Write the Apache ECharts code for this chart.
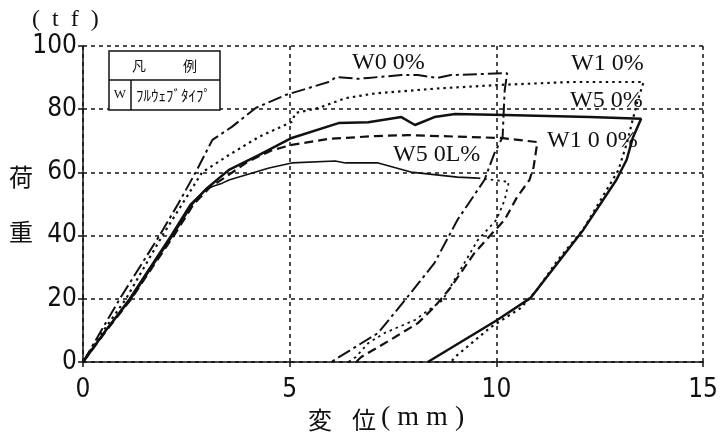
<!DOCTYPE html>
<html>
<head>
<meta charset="utf-8">
<script src="https://cdn.jsdelivr.net/npm/echarts@6/dist/echarts.min.js"></script>
<style>html,body{margin:0;padding:0;background:#fff}#c{width:721px;height:436px}</style>
</head>
<body>
<div id="c"></div>
<script>
// ---- data (x: displacement mm, y: load tf) ----
const xTicks = [0, 5, 10, 15];
const yTicks = [0, 20, 40, 60, 80, 100];
const seriesNames = ['W0 0%', 'W1 0%', 'W5 0%', 'W1 0 0%', 'W5 0L%'];

const w00 = [[0,0],[0.89,20],[1.85,40],[2.3,50],[2.74,60.4],[3.13,70.3],[3.6,74.4],[4.18,80.4],[4.9,84.5],[5.94,88.6],[6.13,90.2],[6.66,89.6],[6.9,89.9],[7.7,90.8],[8.1,90.8],[8.58,89.9],[8.9,90.8],[10.26,91.4],[10.3,91],[10.2,86],[10.15,71.2],[9.95,66],[9.71,57.6],[9.06,45],[8.5,31.3],[7.79,19.6],[7.14,9.2],[6.0,0]];
const w10 = [[0,0],[0.5,10],[1.04,20],[1.48,30],[1.92,40],[2.4,50],[2.88,60],[3.53,65.5],[4.25,71.2],[5.05,76],[5.14,78.8],[5.7,80.4],[6.35,83.5],[7.07,85],[8.5,86.5],[10.1,87.7],[11.8,88.6],[13.56,88.6],[13.4,82],[13.15,69],[12.95,60.7],[12.1,42],[11.47,32],[10.98,22.8],[10.58,17],[9.86,11],[9.0,1.6],[8.9,0]];
const w50 = [[0,0],[0.55,10],[1.15,20],[1.65,30],[2.16,40],[2.64,50],[3.0,55],[3.53,60.8],[4.25,65.5],[5.05,70.9],[6.18,75.6],[6.9,75.9],[7.7,77.5],[8.03,75],[8.5,77.5],[9.0,78.5],[10.2,78.2],[12.26,77.5],[13.5,77],[13.3,71],[13.15,64],[12.9,57.6],[12.1,41.8],[10.82,20.2],[10.02,13.3],[8.34,0]];
const w100 = [[0,0],[0.57,10],[1.17,20],[1.68,30],[2.2,40],[2.68,50],[3.05,55],[3.5,59],[4.0,63.5],[4.57,67],[5.05,68.7],[5.94,70.6],[7.07,71.5],[7.86,71.8],[10.1,70.9],[10.99,69.6],[10.9,61.7],[10.8,57.6],[10.5,52.2],[10.2,45],[9.86,40.2],[9.47,34.5],[8.9,23.7],[8.5,17.4],[8.1,12.3],[7.55,7.9],[7.14,4.7],[6.73,1.6],[6.6,0]];
const w50LLoad = [[0,0],[0.55,10],[1.12,20],[1.62,30],[2.12,40],[2.6,50],[3.0,55],[3.37,56.6],[3.53,57.6],[4.5,61.4],[5.05,63],[6.1,63.6],[6.35,63],[7.14,63],[7.93,60.1],[9.06,58.5],[9.55,58.2]];
const w50LUnload = [[9.55,58.2],[10.3,57],[10.26,56.6],[10.2,51.3],[10.0,45],[9.55,38.6],[8.7,19.6],[8.03,13.3],[7.3,9.2],[6.9,6],[6.6,1.6],[6.42,0]];

const chart = echarts.init(document.getElementById('c'));
const ink = '#111';
const tickFont = {color: ink, fontFamily: '"Liberation Sans Narrow", "DejaVu Sans Condensed", sans-serif', fontSize: 26};
const serif = '"Liberation Serif", "DejaVu Serif", serif';
const cjk = '"Noto Sans CJK JP", sans-serif';

function line(name, data, type, width) {
  return {name, type: 'line', data, symbol: 'none', smooth: false, z: 5,
    lineStyle: {color: ink, width: width, type: type}};
}

chart.setOption({
  animation: false,
  backgroundColor: '#fff',
  grid: {left: 83, right: 13, top: 46, bottom: 74},
  xAxis: {type: 'value', min: xTicks[0], max: xTicks[xTicks.length-1], interval: 5,
    axisLine: {lineStyle: {color: ink, width: 1.5}},
    axisTick: {show: true, length: 5, lineStyle: {color: ink, width: 1.5}},
    axisLabel: Object.assign({margin: 15}, tickFont),
    splitLine: {show: true, lineStyle: {color: ink, width: 1.5, type: [4, 4]}}},
  yAxis: {type: 'value', min: yTicks[0], max: yTicks[yTicks.length-1], interval: 20,
    axisLine: {show: true, lineStyle: {color: ink, width: 1.5}},
    axisTick: {show: true, length: 5, lineStyle: {color: ink, width: 1.5}},
    axisLabel: Object.assign({margin: 6}, tickFont),
    splitLine: {show: true, lineStyle: {color: ink, width: 1.5, type: [4, 4]}}},
  series: [
    line(seriesNames[0], w00, [14, 4, 3, 4], 2),
    line(seriesNames[1], w10, [2.5, 4], 2.2),
    line(seriesNames[2], w50, 'solid', 2.5),
    line(seriesNames[3], w100, [9, 5], 2.2),
    line(seriesNames[4], w50LLoad, 'solid', 1.6),
    line(seriesNames[4] + ' unload', w50LUnload, [2.5, 4], 1.8)
  ],
  graphic: [
    {type: 'text', x: 32, y: 20, style: {text: '(\u2002t\u2002f\u2002)', font: '24px ' + serif, fill: ink, verticalAlign: 'middle'}},
    {type: 'text', x: 21, y: 177, style: {text: '荷', font: '24px ' + cjk, fill: ink, align: 'center', verticalAlign: 'middle'}},
    {type: 'text', x: 21, y: 232, style: {text: '重', font: '24px ' + cjk, fill: ink, align: 'center', verticalAlign: 'middle'}},
    {type: 'text', x: 320, y: 420, style: {text: '変', font: '24px ' + cjk, fill: ink, align: 'center', verticalAlign: 'middle'}},
    {type: 'text', x: 364, y: 420, style: {text: '位', font: '24px ' + cjk, fill: ink, align: 'center', verticalAlign: 'middle'}},
    {type: 'text', x: 381, y: 418, style: {text: '( m m )', font: '28px ' + serif, fill: ink, align: 'left', verticalAlign: 'middle'}},
    // curve labels
    {type: 'text', x: 352, y: 63, style: {text: seriesNames[0], font: '24px ' + serif, fill: ink, verticalAlign: 'middle'}},
    {type: 'text', x: 571, y: 64, style: {text: seriesNames[1], font: '24px ' + serif, fill: ink, verticalAlign: 'middle'}},
    {type: 'text', x: 570, y: 101, style: {text: seriesNames[2], font: '24px ' + serif, fill: ink, verticalAlign: 'middle'}},
    {type: 'text', x: 547, y: 141, style: {text: seriesNames[3], font: '24px ' + serif, fill: ink, verticalAlign: 'middle'}},
    {type: 'text', x: 393, y: 155, style: {text: seriesNames[4], font: '24px ' + serif, fill: ink, verticalAlign: 'middle'}},
    // legend box
    {type: 'rect', shape: {x: 109, y: 51, width: 111, height: 59}, style: {fill: '#fff', stroke: ink, lineWidth: 1.5}, z: 10},
    {type: 'line', shape: {x1: 109, y1: 80, x2: 220, y2: 80}, style: {stroke: ink, lineWidth: 1.5}, z: 11},
    {type: 'line', shape: {x1: 131, y1: 80, x2: 131, y2: 110}, style: {stroke: ink, lineWidth: 1.5}, z: 11},
    {type: 'text', x: 139, y: 66, style: {text: '凡', font: '14px ' + cjk, fill: ink, align: 'center', verticalAlign: 'middle'}, z: 11},
    {type: 'text', x: 190, y: 66, style: {text: '例', font: '14px ' + cjk, fill: ink, align: 'center', verticalAlign: 'middle'}, z: 11},
    {type: 'text', x: 120, y: 95, style: {text: 'W', font: '13px ' + serif, fill: ink, align: 'center', verticalAlign: 'middle'}, z: 11},
    {type: 'text', x: 136, y: 95, style: {text: 'ﾌﾙｳｪﾌﾞﾀｲﾌﾟ', font: '15px ' + cjk, fill: ink, align: 'left', verticalAlign: 'middle'}, z: 11}
  ]
});
</script>
</body>
</html>
